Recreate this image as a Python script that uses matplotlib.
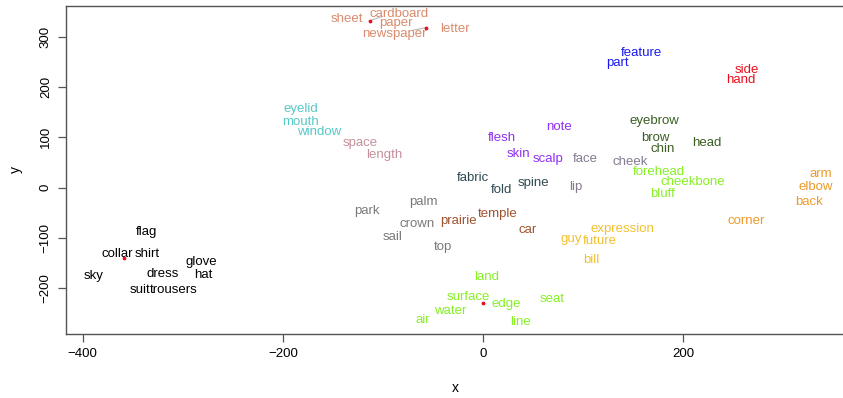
import matplotlib
matplotlib.use("Agg")
import matplotlib.pyplot as plt

plt.rcParams["font.family"] = ["Liberation Sans", "DejaVu Sans"]

# word clusters: labels and 2-d embedding coordinates
paper_words = ["sheet", "cardboard", "paper", "newspaper", "letter"]
paper_x = [-136, -84, -87, -88, -28]
paper_y = [336, 345, 328, 305, 315]

face_part_words = ["eyelid", "mouth", "window"]
face_part_x = [-182, -182, -164]
face_part_y = [156, 131, 111]

space_words = ["space", "length"]
space_x = [-123, -99]
space_y = [88, 64]

skin_words = ["flesh", "note", "skin", "scalp"]
skin_x = [19, 76, 36, 65]
skin_y = [98, 121, 66, 56]

face_words = ["face", "cheek", "lip"]
face_x = [102, 147, 93]
face_y = [56, 51, 2]

fabric_words = ["fabric", "fold", "spine"]
fabric_x = [-10, 19, 51]
fabric_y = [19, -5, 9]

park_words = ["park", "palm", "crown", "sail", "top"]
park_x = [-116, -60, -66, -90, -40]
park_y = [-46, -28, -72, -98, -118]

temple_words = ["prairie", "temple", "car"]
temple_x = [-24, 15, 45]
temple_y = [-66, -52, -84]

future_words = ["expression", "guy", "future", "bill"]
future_x = [139, 88, 117, 108]
future_y = [-83, -103, -106, -144]

bone_words = ["forehead", "cheekbone", "bluff"]
bone_x = [176, 210, 180]
bone_y = [32, 12, -13]

land_words = ["land", "surface", "edge", "seat", "water", "air", "line"]
land_x = [4, -15, 23, 69, -33, -60, 38]
land_y = [-178, -218, -232, -221, -245, -263, -268]

brow_words = ["eyebrow", "brow", "chin", "head"]
brow_x = [171, 172, 180, 224]
brow_y = [133, 98, 76, 89]

feature_words = ["feature", "part"]
feature_x = [158, 134]
feature_y = [267, 247]

hand_words = ["side", "hand"]
hand_x = [264, 258]
hand_y = [234, 213]

arm_words = ["arm", "elbow", "back", "corner"]
arm_x = [338, 333, 326, 263]
arm_y = [27, 2, -28, -66]

cloth_words = ["flag", "collar", "shirt", "glove", "sky", "dress", "hat", "suit", "trousers"]
cloth_x = [-336, -366, -336, -282, -389, -320, -280, -343, -309]
cloth_y = [-89, -132, -132, -148, -176, -172, -174, -204, -204]

# points whose labels were pushed aside, with the leader end points
moved_x = [-113, -57, -359, 0]
moved_y = [332, 318, -140, -229]
leader_x = [-101, -70, -359, 0]
leader_y = [340, 313, -140, -229]

groups = [
    (paper_words, paper_x, paper_y, "#D98B6D"),
    (face_part_words, face_part_x, face_part_y, "#58C8C6"),
    (space_words, space_x, space_y, "#C4909A"),
    (skin_words, skin_x, skin_y, "#9130F0"),
    (face_words, face_x, face_y, "#857A8E"),
    (fabric_words, fabric_x, fabric_y, "#2F4A52"),
    (park_words, park_x, park_y, "#7A7A7A"),
    (temple_words, temple_x, temple_y, "#A0522D"),
    (future_words, future_x, future_y, "#F2C12E"),
    (bone_words, bone_x, bone_y, "#86F024"),
    (land_words, land_x, land_y, "#86F024"),
    (brow_words, brow_x, brow_y, "#3B5E23"),
    (feature_words, feature_x, feature_y, "#1A1AF0"),
    (hand_words, hand_x, hand_y, "#E8101E"),
    (arm_words, arm_x, arm_y, "#EE9A2A"),
    (cloth_words, cloth_x, cloth_y, "#000000"),
]

fig = plt.figure(figsize=(8.43, 3.98), dpi=100)
ax = fig.add_axes([0.078, 0.161, 0.9245, 0.825])

for mx, my, lx, ly in zip(moved_x, moved_y, leader_x, leader_y):
    ax.plot([mx, lx], [my, ly], color="#BBBBBB", lw=0.8, zorder=1)
ax.scatter(moved_x, moved_y, s=3, color="#E8101E", zorder=2)

for words, xs, ys, col in groups:
    for w, x, y in zip(words, xs, ys):
        ax.text(x, y, w, color=col, fontsize=9.5, ha="center", va="center", zorder=3)

ax.set_xlim(-417, 362)
ax.set_ylim(-291, 362)
ax.set_xticks([-400, -200, 0, 200])
ax.set_yticks([-200, -100, 0, 100, 200, 300])
ax.tick_params(direction="out", length=6, width=0.9, color="#555555", labelsize=9.5, pad=4)
for lab in ax.get_yticklabels():
    lab.set_rotation(90)
    lab.set_va("center")
for s in ax.spines.values():
    s.set_color("#555555")
    s.set_linewidth(1.0)

ax.set_xlabel("x", fontsize=10, labelpad=15)
ax.set_ylabel("y", fontsize=10, labelpad=12)

fig.savefig("out.png", dpi=100)
